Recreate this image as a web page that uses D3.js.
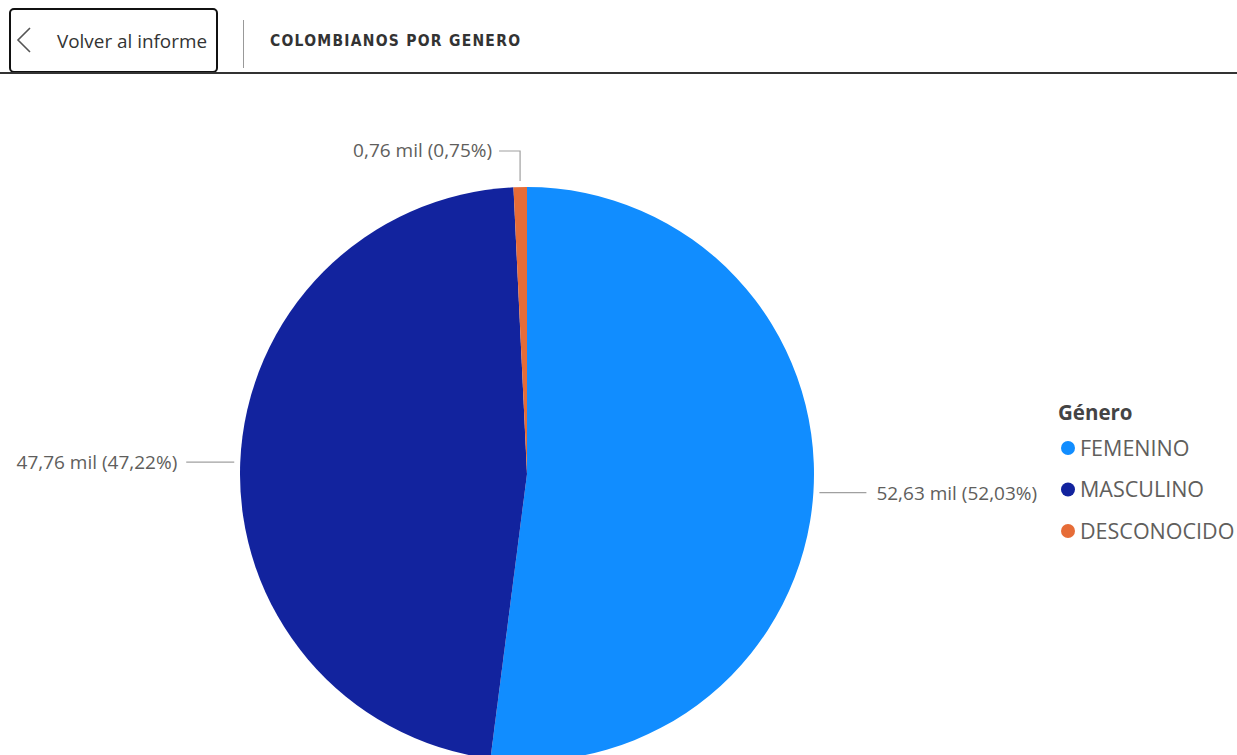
<!DOCTYPE html>
<html><head><meta charset="utf-8">
<script src="https://cdn.jsdelivr.net/npm/d3@7"></script>
<style>
html,body{margin:0;padding:0;background:#fff;overflow:hidden}
svg{display:block}
</style></head>
<body>
<script>
const categories = ["FEMENINO", "MASCULINO", "DESCONOCIDO"];
const values = [52.63, 47.76, 0.76]; // miles
const colors = ["#118DFF", "#12239E", "#E66C37"];
const legendTitle = "Género";
const pageTitle = "COLOMBIANOS POR GENERO";
const backLabel = "Volver al informe";

const W = 1237, H = 755;
const svg = d3.select("body").append("svg").attr("width", W).attr("height", H);
const font = "'Segoe UI','Open Sans','Noto Sans',sans-serif";

// Header
svg.append("rect").attr("x", 10).attr("y", 9).attr("width", 207).attr("height", 63)
  .attr("rx", 4).attr("fill", "#fff").attr("stroke", "#111").attr("stroke-width", 2);
svg.append("path").attr("d", "M30,28 L18,40 L30,52").attr("fill", "none")
  .attr("stroke", "#555").attr("stroke-width", 1.6);
svg.append("text").attr("x", 57).attr("y", 48).text(backLabel)
  .attr("font-family", font).attr("font-size", 18.5).attr("fill", "#333")
  .attr("textLength", 150).attr("lengthAdjust", "spacingAndGlyphs");
svg.append("line").attr("x1", 243.5).attr("x2", 243.5).attr("y1", 20).attr("y2", 68)
  .attr("stroke", "#999").attr("stroke-width", 1);
svg.append("text").attr("x", 270).attr("y", 46).text(pageTitle)
  .attr("font-family", "'DejaVu Sans Condensed','Liberation Sans Narrow',sans-serif")
  .attr("font-weight", "bold").attr("font-size", 15.5).attr("fill", "#333")
  .attr("textLength", 250).attr("lengthAdjust", "spacing");
svg.append("line").attr("x1", 0).attr("x2", W).attr("y1", 73).attr("y2", 73)
  .attr("stroke", "#333").attr("stroke-width", 2);

// Pie
const cx = 527, cy = 474, r = 287;
const total = d3.sum(values);
const data = categories.map((c, i) => ({cat: c, value: values[i], color: colors[i]}));
const pie = d3.pie().value(d => d.value).sort(null);
const arc = d3.arc().innerRadius(0).outerRadius(r);
const arcs = pie(data);
const g = svg.append("g").attr("transform", `translate(${cx},${cy})`);
g.selectAll("path").data(arcs).join("path")
  .attr("d", arc).attr("fill", d => d.data.color);

const fmt = v => v.toFixed(2).replace(".", ",");
const labelColor = "#605E5C";
const lineColor = "#A0A0A0";
arcs.forEach(a => {
  const mid = (a.startAngle + a.endAngle) / 2;
  const px = Math.sin(mid) * (r + 6), py = -Math.cos(mid) * (r + 6);
  const txt = `${fmt(a.data.value)} mil (${fmt(a.data.value / total * 100)}%)`;
  let pts, tx, ty, anchor;
  if (Math.abs(Math.sin(mid)) < 0.2) {
    const ey = -(r + 36);
    pts = [[px, py], [px, ey], [px - 21, ey]];
    tx = px - 28; ty = ey + 6; anchor = "end";
  } else if (Math.sin(mid) > 0) {
    pts = [[px, py], [px + 47, py]];
    tx = px + 57; ty = py + 7; anchor = "start";
  } else {
    pts = [[px, py], [px - 48, py]];
    tx = px - 57; ty = py + 7; anchor = "end";
  }
  g.append("path").attr("d", d3.line()(pts)).attr("fill", "none")
    .attr("stroke", lineColor).attr("stroke-width", 1.2);
  g.append("text").attr("x", tx).attr("y", ty).attr("text-anchor", anchor)
    .attr("font-family", font).attr("font-size", 19).attr("fill", labelColor).text(txt);
});

// Legend
const lg = svg.append("g");
lg.append("text").attr("x", 1058).attr("y", 420).text(legendTitle)
  .attr("font-family", font).attr("font-weight", "bold").attr("font-size", 20.5).attr("fill", "#444");
const ly = d3.scalePoint().domain(categories).range([448, 531]);
categories.forEach((c, i) => {
  lg.append("circle").attr("cx", 1068).attr("cy", ly(c)).attr("r", 7).attr("fill", colors[i]);
  lg.append("text").attr("x", 1080).attr("y", ly(c) + 7.5).text(c)
    .attr("font-family", font).attr("font-size", 21.5).attr("fill", labelColor);
});
</script>
</body></html>
